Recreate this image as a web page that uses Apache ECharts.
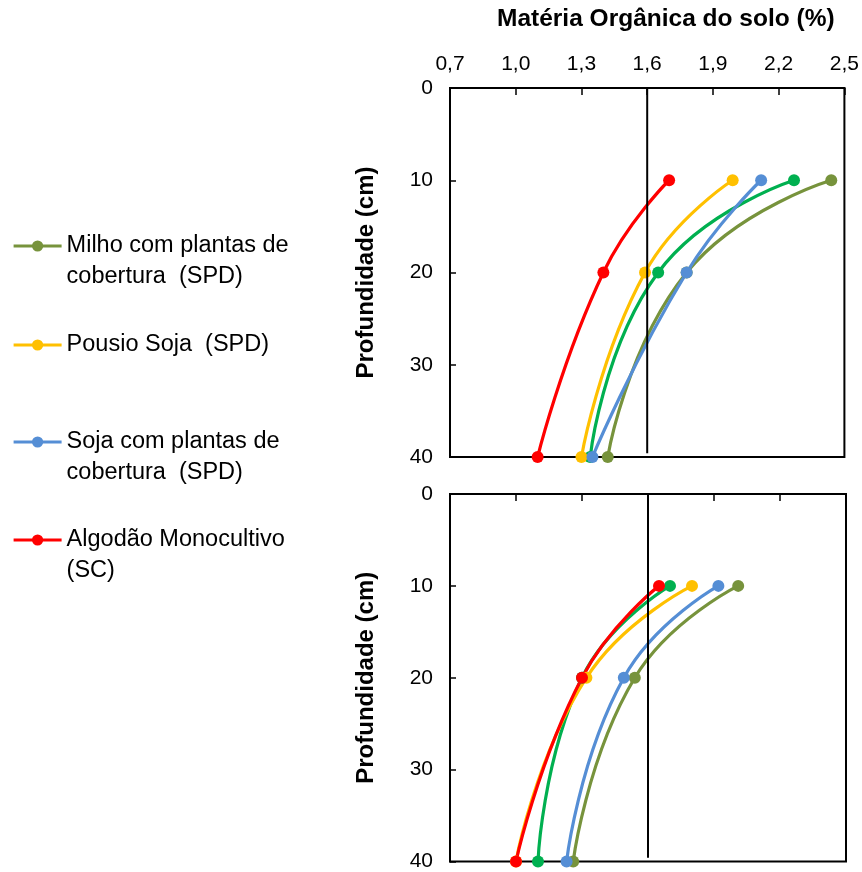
<!DOCTYPE html>
<html><head><meta charset="utf-8">
<script src="https://cdn.jsdelivr.net/npm/echarts@6/dist/echarts.min.js"></script>
<style>html,body{margin:0;padding:0;background:#fff}#c{width:862px;height:872px}</style>
</head><body><div id="c"></div>
<script>
// ---- data ----
const depths = [10, 20, 40];
const xTicks = [0.7, 1.0, 1.3, 1.6, 1.9, 2.2, 2.5];
const seriesNames = [
  'Milho com plantas de cobertura  (SPD)',
  'Pousio Soja  (SPD)',
  'Soja com plantas de cobertura  (SPD)',
  'Algodão Monocultivo (SC)',
  'Série 5'
];
const legendLabels = [
  '\nMilho com plantas de\ncobertura  (SPD)',
  'Pousio Soja  (SPD)',
  '\nSoja com plantas de\ncobertura  (SPD)',
  '\nAlgodão Monocultivo\n(SC)'
];
const colors = ['#77933C', '#FFC000', '#558ED5', '#FF0000', '#00B050'];
// top panel (Matéria orgânica, %)
const topMilho   = [2.44, 1.78, 1.42];
const topPousio  = [1.99, 1.59, 1.30];
const topSoja    = [2.12, 1.78, 1.35];
const topAlgodao = [1.70, 1.40, 1.10];
const topVerde   = [2.27, 1.65, 1.34];
// bottom panel
const botMilho   = [2.01, 1.54, 1.26];
const botPousio  = [1.80, 1.32, 1.00];
const botSoja    = [1.92, 1.49, 1.23];
const botAlgodao = [1.65, 1.30, 1.00];
const botVerde   = [1.70, 1.30, 1.10];
const refValue = 1.6;
const refDepths = [0, 39.6];

const FONT = '"Liberation Sans", Arial, sans-serif';
const topSets = [topMilho, topPousio, topSoja, topAlgodao, topVerde];
const botSets = [botMilho, botPousio, botSoja, botAlgodao, botVerde];
const drawOrder = [4, 0, 1, 2, 3];

function mk(vals) { return depths.map((d, i) => [vals[i], d]); }

const series = [];
[topSets, botSets].forEach((sets, p) => {
  drawOrder.forEach(k => {
    series.push({
      name: seriesNames[k], type: 'line', xAxisIndex: p, yAxisIndex: p,
      data: mk(sets[k]), smooth: 0.5, symbol: 'circle', symbolSize: 12,
      lineStyle: { color: colors[k], width: 3.2 },
      itemStyle: { color: colors[k] },
      z: 2
    });
  });
  series.push({
    name: 'ref' + p, type: 'line', xAxisIndex: p, yAxisIndex: p, silent: true,
    data: refDepths.map(d => [refValue, d]), symbol: 'none',
    lineStyle: { color: '#000', width: 2 }, z: 3
  });
});

function xAxis(p, showLabel) {
  return {
    gridIndex: p, type: 'value', position: 'top', min: 0.7, max: 2.5,
    axisLine: { show: true, lineStyle: { color: '#000', width: 2 } },
    axisTick: { show: true, inside: true, length: 7, customValues: xTicks, lineStyle: { color: '#000', width: 1.5 } },
    axisLabel: { show: showLabel, customValues: xTicks, margin: 13, color: '#000', fontSize: 21, fontFamily: FONT,
      formatter: v => v.toFixed(1).replace('.', ',') },
    splitLine: { show: false }
  };
}
function yAxis(p) {
  return {
    gridIndex: p, type: 'value', inverse: true, min: 0, max: 40, interval: 10,
    axisLine: { show: true, lineStyle: { color: '#000', width: 2 } },
    axisTick: { show: true, inside: true, length: 6, lineStyle: { color: '#000', width: 1.5 } },
    axisLabel: { margin: 17, color: '#000', fontSize: 21, fontFamily: FONT },
    splitLine: { show: false },
    name: 'Profundidade (cm)', nameLocation: 'middle', nameGap: 72,
    nameTextStyle: { color: '#000', fontSize: 24, fontWeight: 'bold', fontFamily: FONT }
  };
}

const legendCenters = [246, 345, 442, 540];
const legends = [0, 1, 2, 3].map(k => {
  const lines = legendLabels[k].split('\n').length;
  return {
    data: [seriesNames[k]], orient: 'vertical', left: 12,
    top: legendCenters[k] - lines * 31 / 2, padding: 0,
    itemWidth: 48, itemHeight: 14, selectedMode: false,
    lineStyle: { width: 3.2 },
    formatter: () => legendLabels[k],
    textStyle: { color: '#000', fontSize: 23.5, lineHeight: 31, fontFamily: FONT }
  };
});

const chart = echarts.init(document.getElementById('c'));
chart.setOption({
  animation: false,
  backgroundColor: '#fff',
  title: { text: 'Matéria Orgânica do solo (%)', left: 497, top: 7, padding: 0,
    textStyle: { color: '#000', fontSize: 24.5, fontWeight: 'bold', fontFamily: FONT } },
  legend: legends,
  grid: [
    { left: 450, top: 88, width: 396, height: 369, show: true, borderColor: '#000', borderWidth: 2, containLabel: false },
    { left: 450, top: 494, width: 396, height: 369, show: true, borderColor: '#000', borderWidth: 2, containLabel: false }
  ],
  xAxis: [xAxis(0, true), xAxis(1, false)],
  yAxis: [yAxis(0), yAxis(1)],
  series: series
});
</script></body></html>
